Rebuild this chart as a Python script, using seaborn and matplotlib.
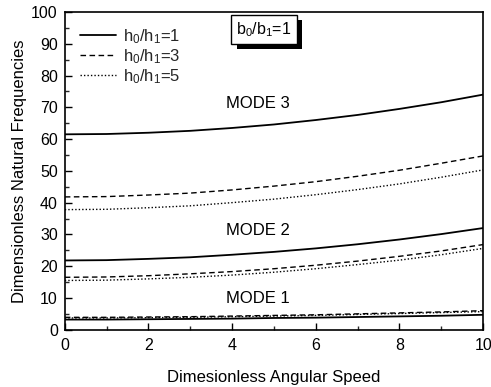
import numpy as np
import pandas as pd
import matplotlib
matplotlib.use("Agg")
import matplotlib.pyplot as plt
import matplotlib.patheffects as pe
from matplotlib.ticker import MultipleLocator
import seaborn as sns

sns.set_theme(style="white")
plt.rcParams['font.family'] = ['Liberation Sans', 'DejaVu Sans']
plt.rcParams['mathtext.default'] = 'regular'

speed = [0, 1, 2, 3, 4, 5, 6, 7, 8, 9, 10]
ratios = ["h$_0$/h$_1$=1", "h$_0$/h$_1$=3", "h$_0$/h$_1$=5"]

mode3_r1 = [61.5, 61.6, 62.0, 62.6, 63.5, 64.6, 66.0, 67.6, 69.5, 71.6, 74.0]
mode3_r3 = [41.8, 41.9, 42.4, 43.0, 44.0, 45.2, 46.6, 48.3, 50.2, 52.4, 54.7]
mode3_r5 = [37.8, 37.9, 38.4, 39.0, 40.0, 41.1, 42.5, 44.1, 45.9, 48.0, 50.3]
mode2_r1 = [21.8, 21.9, 22.3, 22.8, 23.6, 24.5, 25.6, 26.9, 28.4, 30.1, 32.0]
mode2_r3 = [16.5, 16.6, 17.0, 17.6, 18.3, 19.2, 20.3, 21.6, 23.1, 24.8, 26.8]
mode2_r5 = [15.5, 15.6, 16.0, 16.5, 17.2, 18.1, 19.2, 20.5, 21.9, 23.6, 25.6]
mode1_r1 = [3.2, 3.2, 3.3, 3.4, 3.5, 3.7, 3.8, 4.0, 4.2, 4.4, 4.7]
mode1_r3 = [3.9, 3.9, 4.0, 4.1, 4.3, 4.5, 4.7, 5.0, 5.3, 5.6, 6.0]
mode1_r5 = [3.7, 3.7, 3.8, 3.9, 4.1, 4.3, 4.5, 4.8, 5.1, 5.4, 5.7]

series = {
    ("MODE 3", ratios[0]): mode3_r1, ("MODE 3", ratios[1]): mode3_r3, ("MODE 3", ratios[2]): mode3_r5,
    ("MODE 2", ratios[0]): mode2_r1, ("MODE 2", ratios[1]): mode2_r3, ("MODE 2", ratios[2]): mode2_r5,
    ("MODE 1", ratios[0]): mode1_r1, ("MODE 1", ratios[1]): mode1_r3, ("MODE 1", ratios[2]): mode1_r5,
}
rows = []
for (mode, ratio), vals in series.items():
    for x, v in zip(speed, vals):
        rows.append({"speed": x, "freq": v, "mode": mode, "ratio": ratio})
df = pd.DataFrame(rows)

styles = {ratios[0]: "-", ratios[1]: (0, (4, 2.5)), ratios[2]: (0, (1, 1.5))}
widths = {ratios[0]: 1.3, ratios[1]: 1.0, ratios[2]: 1.0}

fig = plt.figure(figsize=(4.91, 3.87), dpi=100)
ax = fig.add_axes([0.132, 0.148, 0.852, 0.821])

for mode in ["MODE 3", "MODE 2", "MODE 1"]:
    for ratio in ratios:
        sub = df[(df["mode"] == mode) & (df["ratio"] == ratio)]
        sns.lineplot(data=sub, x="speed", y="freq", ax=ax, color="black",
                     linestyle=styles[ratio], linewidth=widths[ratio],
                     label=ratio if mode == "MODE 3" else None)

ax.set_xlim(0, 10)
ax.set_ylim(0, 100)
ax.xaxis.set_major_locator(MultipleLocator(2))
ax.xaxis.set_minor_locator(MultipleLocator(1))
ax.yaxis.set_major_locator(MultipleLocator(10))
ax.yaxis.set_minor_locator(MultipleLocator(5))
ax.tick_params(axis="both", which="major", direction="in", length=5, width=1,
               labelsize=11.5, colors="black", bottom=True, left=True, top=False, right=False)
ax.tick_params(axis="x", which="major", pad=6)
ax.tick_params(axis="y", which="major", pad=5)
ax.tick_params(axis="both", which="minor", direction="in", length=3, width=1,
               bottom=True, left=True, top=False, right=False)
for s in ax.spines.values():
    s.set_color("black")
    s.set_linewidth(1.2)

ax.set_xlabel("Dimesionless Angular Speed", fontsize=12, color="black", labelpad=12)
ax.set_ylabel("Dimensionless Natural Frequencies", fontsize=12, color="black", labelpad=3)

leg = ax.legend(loc="upper left", frameon=False, fontsize=12, handlelength=2.2,
                handletextpad=0.4, borderaxespad=0.5, labelspacing=0.08)

ax.text(4.62, 71.3, "MODE 3", ha="center", va="center", fontsize=12, color="black")
ax.text(4.62, 31.2, "MODE 2", ha="center", va="center", fontsize=12, color="black")
ax.text(4.62, 9.8, "MODE 1", ha="center", va="center", fontsize=12, color="black")

box = ax.text(4.76, 94.6, "b$_0$/b$_1$=1", ha="center", va="center", fontsize=11.5, color="black",
              bbox=dict(boxstyle="square,pad=0.32", fc="white", ec="black", lw=1))
box.get_bbox_patch().set_path_effects([
    pe.SimplePatchShadow(offset=(4, -4), shadow_rgbFace="black", alpha=1.0),
    pe.Normal()])

fig.savefig("out.png", dpi=100)
